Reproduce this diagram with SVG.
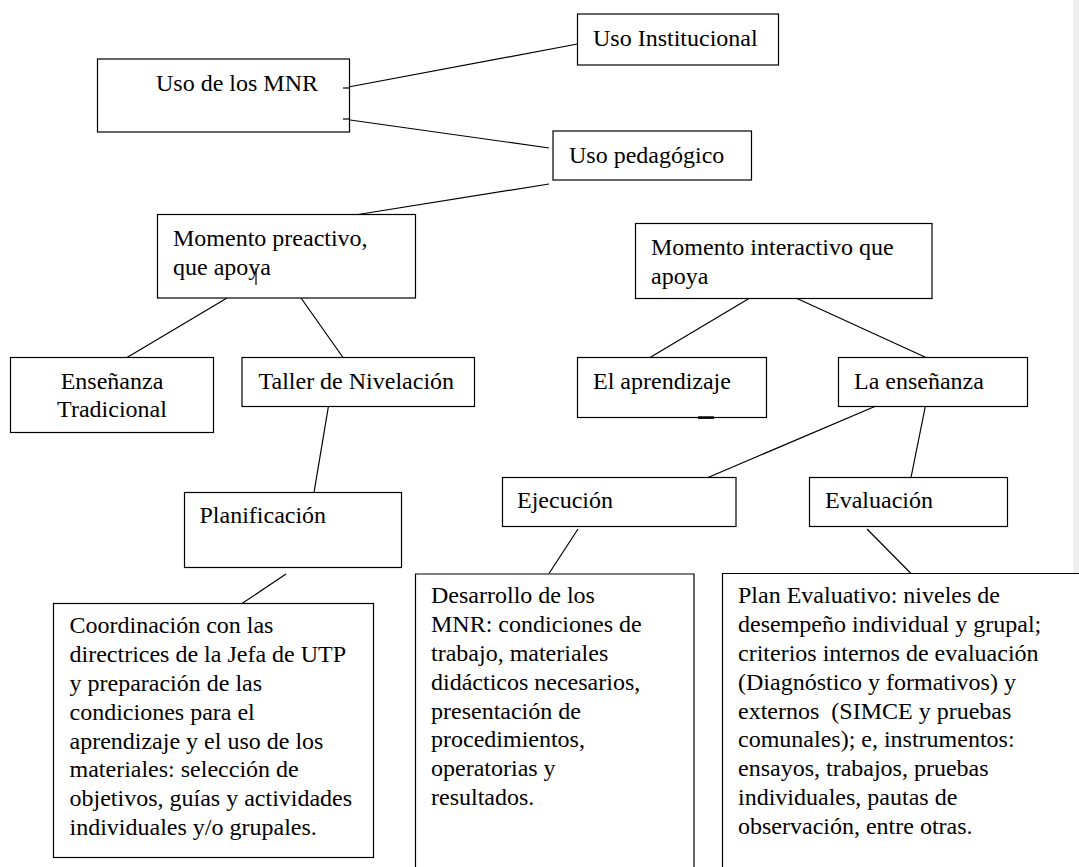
<svg xmlns="http://www.w3.org/2000/svg" width="1079" height="867" viewBox="0 0 1079 867">
  <style>
    .box { fill: #ffffff; stroke: #000000; stroke-width: 1.2; }
    .open { fill: #ffffff; stroke: #000000; stroke-width: 1.2; }
    .edge { stroke: #000000; stroke-width: 1.2; fill: none; }
    .lbl { font-family: 'Liberation Serif', 'DejaVu Serif', serif; font-size: 24px; fill: #000000; }
    .mid { text-anchor: middle; }
  </style>

  <rect x="0" y="0" width="1079" height="867" fill="#ffffff"/>
  <!-- page margin strip -->
  <rect x="1073" y="0" width="6" height="574" fill="#f0f0f0"/>

  <g id="connectors">
    <line class="edge" x1="343" y1="88" x2="577.5" y2="44"/>
    <line class="edge" x1="343" y1="119" x2="549" y2="148"/>
    <line class="edge" x1="358" y1="214.5" x2="549" y2="184"/>
    <line class="edge" x1="227" y1="298" x2="127" y2="357.5"/>
    <line class="edge" x1="301" y1="298" x2="343" y2="357.5"/>
    <line class="edge" x1="329" y1="403" x2="314" y2="492.5"/>
    <line class="edge" x1="286" y1="574" x2="242" y2="603.5"/>
    <line class="edge" x1="749" y1="298.5" x2="650" y2="357.5"/>
    <line class="edge" x1="797" y1="298.5" x2="926" y2="357.5"/>
    <line class="edge" x1="883" y1="403" x2="708" y2="477.5"/>
    <line class="edge" x1="926" y1="403" x2="911" y2="477.5"/>
    <line class="edge" x1="578" y1="529" x2="549" y2="573.5"/>
    <line class="edge" x1="867" y1="529" x2="911" y2="573.5"/>
  </g>

  <g font-family="Liberation Serif, DejaVu Serif, serif">
  <g id="uso-mnr">
    <rect class="box" x="97.5" y="59" width="252" height="73"/>
    <line class="edge" x1="343" y1="88" x2="349.5" y2="88"/>
    <line class="edge" x1="343" y1="119" x2="349.5" y2="119"/>
    <text class="lbl" x="156" y="91">Uso de los MNR</text>
  </g>

  <g id="uso-institucional">
    <rect class="box" x="577.5" y="14" width="201" height="51"/>
    <text class="lbl" x="593" y="46">Uso Institucional</text>
  </g>

  <g id="uso-pedagogico">
    <rect class="box" x="553" y="131" width="198.5" height="49"/>
    <text class="lbl" x="569" y="162.5">Uso pedagógico</text>
  </g>

  <g id="momento-preactivo">
    <rect class="box" x="157.5" y="214.5" width="258" height="83.5"/>
    <text class="lbl" x="173" y="246">Momento preactivo,<tspan x="173" dy="29">que apoya</tspan></text>
    <line class="edge" x1="256" y1="268" x2="256" y2="285" stroke-width="1"/>
  </g>

  <g id="momento-interactivo">
    <rect class="box" x="635.5" y="223.5" width="296.5" height="75"/>
    <text class="lbl" x="651" y="255">Momento interactivo que<tspan x="651" dy="29">apoya</tspan></text>
  </g>

  <g id="ensenanza-tradicional">
    <rect class="box" x="10.5" y="357.5" width="203" height="75"/>
    <text class="lbl mid" x="112" y="389">Enseñanza<tspan x="112" dy="28">Tradicional</tspan></text>
  </g>

  <g id="taller-nivelacion">
    <rect class="box" x="242" y="357.5" width="232.5" height="49"/>
    <text class="lbl" x="258.5" y="389">Taller de Nivelación</text>
  </g>

  <g id="el-aprendizaje">
    <rect class="box" x="577.5" y="357.5" width="189" height="60"/>
    <rect x="698" y="416.3" width="16" height="2.6" fill="#000000"/>
    <text class="lbl" x="593" y="389">El aprendizaje</text>
  </g>

  <g id="la-ensenanza">
    <rect class="box" x="838.5" y="357.5" width="189" height="49"/>
    <text class="lbl" x="854" y="389">La enseñanza</text>
  </g>

  <g id="planificacion">
    <rect class="box" x="184.5" y="492.5" width="217" height="75"/>
    <text class="lbl" x="199.5" y="523">Planificación</text>
  </g>

  <g id="ejecucion">
    <rect class="box" x="502.5" y="477.5" width="233.5" height="49"/>
    <text class="lbl" x="517" y="508">Ejecución</text>
  </g>

  <g id="evaluacion">
    <rect class="box" x="809.5" y="477.5" width="198" height="49"/>
    <text class="lbl" x="825" y="508">Evaluación</text>
  </g>

  <g id="coordinacion">
    <rect class="box" x="53.5" y="603.5" width="320" height="254"/>
    <text class="lbl" x="69.5" y="633.3">Coordinación con las<tspan x="69.5" dy="28.8">directrices de la Jefa de UTP</tspan><tspan x="69.5" dy="28.8">y preparación de las</tspan><tspan x="69.5" dy="28.8">condiciones para el</tspan><tspan x="69.5" dy="28.8">aprendizaje y el uso de los</tspan><tspan x="69.5" dy="28.8">materiales: selección de</tspan><tspan x="69.5" dy="28.8">objetivos, guías y actividades</tspan><tspan x="69.5" dy="28.8">individuales y/o grupales.</tspan></text>
  </g>

  <g id="desarrollo">
    <path class="open" d="M415.5,880 V574 H694 V880"/>
    <text class="lbl" x="431" y="603.3">Desarrollo de los<tspan x="431" dy="28.8">MNR: condiciones de</tspan><tspan x="431" dy="28.8">trabajo, materiales</tspan><tspan x="431" dy="28.8">didácticos necesarios,</tspan><tspan x="431" dy="28.8">presentación de</tspan><tspan x="431" dy="28.8">procedimientos,</tspan><tspan x="431" dy="28.8">operatorias y</tspan><tspan x="431" dy="28.8">resultados.</tspan></text>
  </g>

  <g id="plan-evaluativo">
    <path class="open" d="M722.5,880 V573.5 H1090"/>
    <text class="lbl" x="738" y="603.3" xml:space="preserve">Plan Evaluativo: niveles de<tspan x="738" dy="28.8">desempeño individual y grupal;</tspan><tspan x="738" dy="28.8">criterios internos de evaluación</tspan><tspan x="738" dy="28.8">(Diagnóstico y formativos) y</tspan><tspan x="738" dy="28.8">externos  (SIMCE y pruebas</tspan><tspan x="738" dy="28.8">comunales); e, instrumentos:</tspan><tspan x="738" dy="28.8">ensayos, trabajos, pruebas</tspan><tspan x="738" dy="28.8">individuales, pautas de</tspan><tspan x="738" dy="28.8">observación, entre otras.</tspan></text>
  </g>
  </g>
</svg>
